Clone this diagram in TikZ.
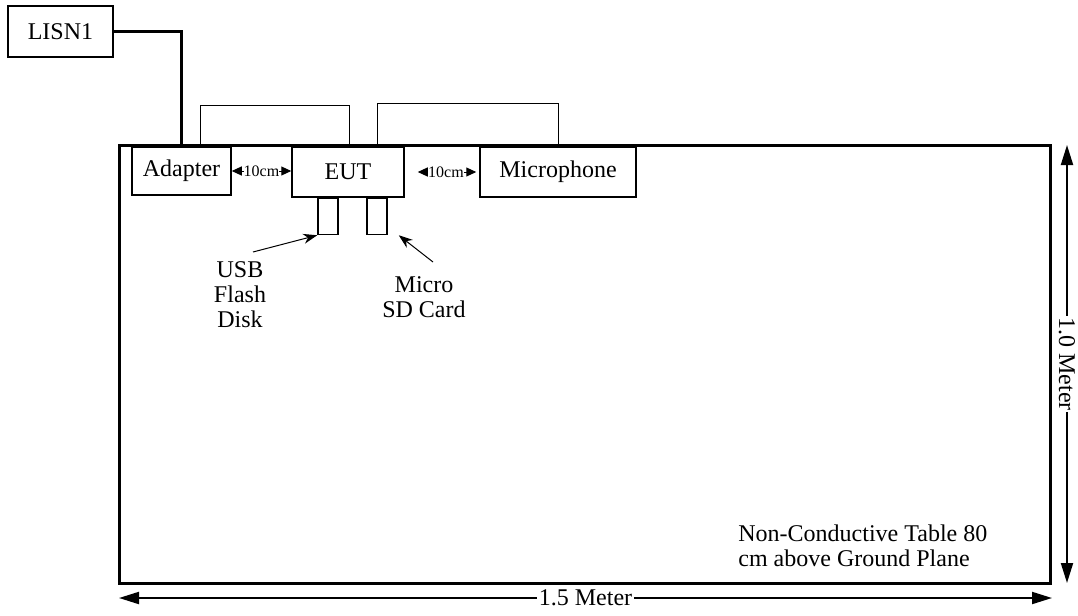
\documentclass[tikz,border=0pt]{standalone}
\usepackage{fontspec}
\setmainfont{Liberation Serif}
\usetikzlibrary{arrows.meta}

\begin{document}
\begin{tikzpicture}[x=0.5pt,y=-0.5pt,
  box/.style={draw,line width=0.75pt,inner sep=0pt,font=\fontsize{12}{12}\selectfont},
  stub/.style={draw,line width=0.75pt,minimum width=10pt,minimum height=18pt,inner sep=0pt},
  cable/.style={line width=0.5pt},
  gap/.style={{Triangle[length=5pt,width=4.5pt]}-{Triangle[length=5pt,width=4.5pt]},line width=0.5pt},
  gaplabel/.style={fill=white,inner sep=0pt,font=\fontsize{8}{8}\selectfont},
  dim/.style={{Triangle[length=10pt,width=6pt]}-{Triangle[length=10pt,width=6pt]},line width=1pt},
  dimlabel/.style={fill=white,inner sep=1pt,font=\fontsize{12}{12}\selectfont},
  pointer/.style={-{Stealth[length=7pt,width=5pt]},line width=0.5pt},
  note/.style={align=center,inner sep=0pt,font=\fontsize{12}{12.5}\selectfont}]
\useasboundingbox (0,0) rectangle (1078,616);
% table outline (pixel grid, y down)
\coordinate (tl) at (119,145);
\coordinate (br) at (1050,583);
\draw[line width=1.5pt] (tl) rectangle (br);
% equipment
\node[box,minimum width=52.5pt,minimum height=25.5pt] (lisn) at (60.5,31.5) {LISN1};
\node[box,minimum width=49.5pt,minimum height=24pt] (adapter) at (181.5,171) {Adapter};
\node[box,minimum width=56pt,minimum height=25pt] (eut) at (348,172) {EUT};
\node[box,minimum width=78pt,minimum height=25pt] (mic) at (558,172) {Microphone};
\node[stub,anchor=north] (usb) at ([xshift=-10pt]eut.south) {};
\node[stub,anchor=north] (sd) at ([xshift=14.5pt]eut.south) {};
% mains feed
\draw[line width=1.5pt] (lisn.east) -| (adapter.north);
% cables over the table edge
\draw[cable] ([xshift=9.5pt]adapter.north) -- ++(0,-41) -| ([xshift=0.5pt]eut.north);
\draw[cable] ([xshift=14.5pt]eut.north) -- ++(0,-43) -| (mic.north);
% spacing marks
\draw[gap] (adapter.east) -- node[gaplabel] {10cm} (adapter.east -| eut.west);
\draw[gap,shorten <=6.5pt,shorten >=1.5pt] (eut.east) -- node[gaplabel,xshift=2pt] {10cm} (mic.west);
% storage callouts
\node[note] (usblabel) at (240,295) {USB\\Flash\\Disk};
\node[note] (sdlabel) at (424,297) {Micro\\SD Card};
\coordinate (usbtail) at (253,252);
\coordinate (sdtail) at (433,262);
\draw[pointer] (usbtail) -- (usb.south west);
\draw[pointer] (sdtail) -- ([xshift=5.5pt]sd.south east);
\node[note,align=left,anchor=north west] (tablenote) at (738,524) {Non-Conductive Table 80\\cm above Ground Plane};
% table dimensions
\coordinate (dimh1) at (1067,145);
\coordinate (dimh2) at (1067,583);
\coordinate (dimw1) at (119,598);
\coordinate (dimw2) at (1052,598);
\draw[dim] (dimh1) -- node[dimlabel,rotate=-90,inner sep=0.5pt] {1.0 Meter} (dimh2);
\draw[dim] (dimw1) -- node[dimlabel] {1.5 Meter} (dimw2);
\end{tikzpicture}
\end{document}
